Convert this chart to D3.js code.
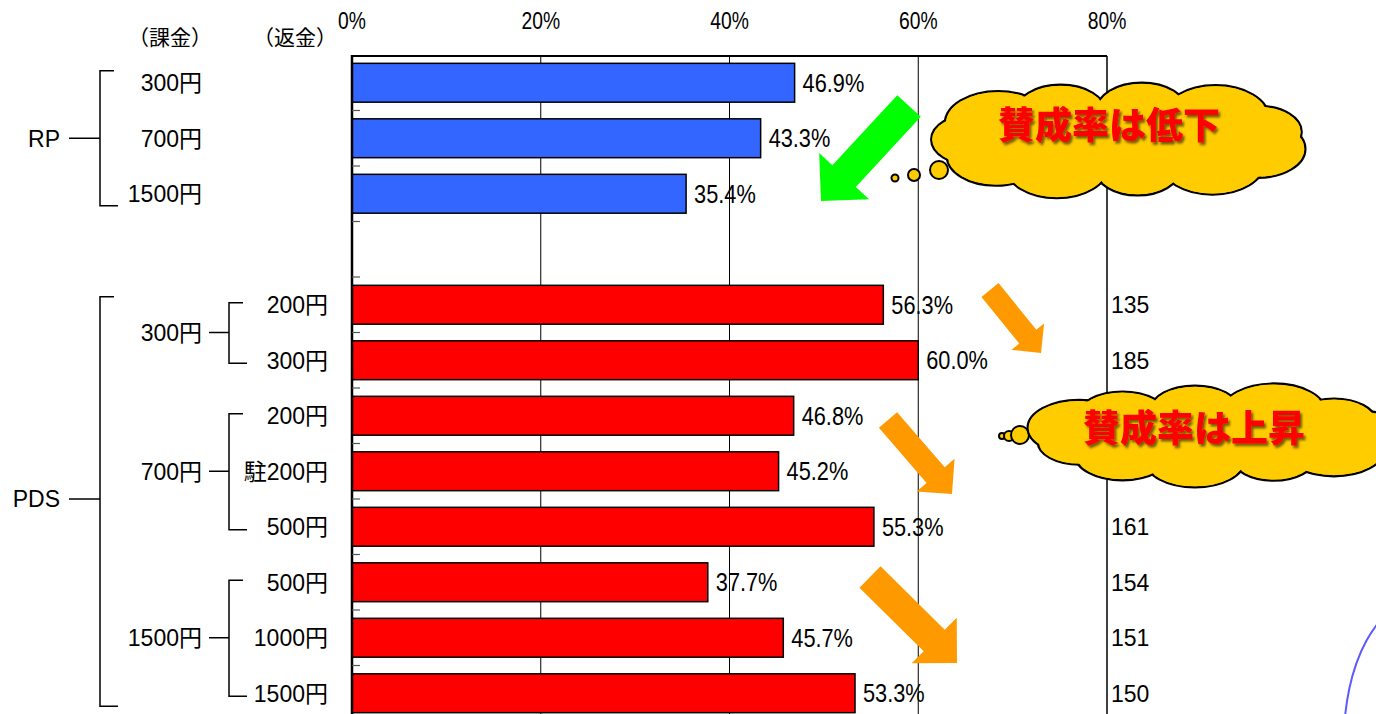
<!DOCTYPE html>
<html>
<head>
<meta charset="utf-8">
<script src="https://cdn.jsdelivr.net/npm/d3@7"></script>
<style>
  html, body { margin: 0; padding: 0; background: #fff; }
  svg { display: block; }
</style>
</head>
<body>
<svg id="chart" width="1376" height="714"></svg>
<script>
// ---- data ----
const rpLabels = ["300円", "700円", "1500円"];
const rpValues = [46.9, 43.3, 35.4];
const pdsGroups = ["300円", "700円", "1500円"];
const pdsGroupOf = [0, 0, 1, 1, 1, 2, 2, 2];
const pdsLabels = ["200円", "300円", "200円", "駐200円", "500円", "500円", "1000円", "1500円"];
const pdsValues = [56.3, 60.0, 46.8, 45.2, 55.3, 37.7, 45.7, 53.3];
const pdsCounts = [135, 185, null, null, 161, 154, 151, 150];
const xTicks = [0, 20, 40, 60, 80];
const headerLabels = ["（課金）", "（返金）"];
const noteDown = "賛成率は低下";
const noteUp = "賛成率は上昇";

// ---- rows (a blank slot separates the two schemes) ----
const rows = [];
rpLabels.forEach((l, i) => rows.push({ key: "RP" + i, scheme: "RP", value: rpValues[i] }));
rows.push({ key: "gap", scheme: null, value: null });
pdsLabels.forEach((l, i) => rows.push({ key: "PDS" + i, scheme: "PDS", value: pdsValues[i], count: pdsCounts[i] }));

const svg = d3.select("#chart");
const numFont = "'Liberation Sans', sans-serif";
const jpFont = "'Liberation Sans', 'Noto Sans CJK JP', sans-serif";

const x = d3.scaleLinear().domain([0, 80]).range([352, 1107]);
const y = d3.scaleBand().domain(rows.map(r => r.key)).range([55, 721])
  .paddingInner(0.3).paddingOuter(0.15);
const step = y.step();
const yc = k => y(k) + y.bandwidth() / 2;
const plotTop = 56, plotBottom = 714;

// ---- grid ----
const grid = svg.append("g");
grid.selectAll("line.g").data(xTicks.filter(t => t > 0 && t < 80)).join("line")
  .attr("x1", d => x(d)).attr("x2", d => x(d)).attr("y1", plotTop).attr("y2", plotBottom)
  .attr("stroke", "#000").attr("stroke-width", 1);

// ---- bars ----
svg.append("g").selectAll("rect").data(rows.filter(r => r.value != null)).join("rect")
  .attr("x", x(0)).attr("y", d => y(d.key))
  .attr("width", d => x(d.value) - x(0)).attr("height", y.bandwidth())
  .attr("fill", d => d.scheme === "RP" ? "#3366ff" : "#ff0000")
  .attr("stroke", "#000").attr("stroke-width", 1.5);

// frame lines
svg.append("line").attr("x1", x(0)).attr("x2", x(80)).attr("y1", plotTop).attr("y2", plotTop)
  .attr("stroke", "#000").attr("stroke-width", 2);
svg.append("line").attr("x1", x(80)).attr("x2", x(80)).attr("y1", plotTop).attr("y2", plotBottom)
  .attr("stroke", "#000").attr("stroke-width", 1.5);
svg.append("line").attr("x1", x(0)).attr("x2", x(0)).attr("y1", plotTop - 1).attr("y2", plotBottom)
  .attr("stroke", "#000").attr("stroke-width", 2.5);

// category ticks on the inside of the axis
svg.append("g").selectAll("line").data(d3.range(1, rows.length)).join("line")
  .attr("x1", x(0)).attr("x2", x(0) + 8)
  .attr("y1", i => y.range()[0] + i * step).attr("y2", i => y.range()[0] + i * step)
  .attr("stroke", "#555").attr("stroke-width", 1.2);

// top axis labels (condensed)
svg.append("g").selectAll("text").data(xTicks).join("text")
  .attr("transform", d => `translate(${x(d)},29) scale(0.84,1)`).attr("text-anchor", "middle")
  .style("font-family", numFont).style("font-size", "23px").attr("fill", "#000")
  .text(d => d + "%");

// value labels (condensed)
svg.append("g").selectAll("text").data(rows.filter(r => r.value != null)).join("text")
  .attr("transform", d => `translate(${x(d.value) + 8},${yc(d.key)}) scale(0.87,1)`).attr("dy", "0.36em")
  .style("font-family", numFont).style("font-size", "25px").attr("fill", "#000")
  .text(d => d.value.toFixed(1) + "%");

// counts to the right of the plot
svg.append("g").selectAll("text").data(rows.filter(r => r.count != null)).join("text")
  .attr("x", x(80) + 4).attr("y", d => yc(d.key)).attr("dy", "0.36em")
  .style("font-family", jpFont).style("font-size", "23px").attr("fill", "#000")
  .text(d => d.count);

// ---- category tree on the left ----
const tree = svg.append("g").attr("stroke", "#000").attr("stroke-width", 1.5).attr("fill", "none");
const txt = svg.append("g").style("font-family", jpFont).style("font-size", "23px").attr("fill", "#000");

function bracket(xv, y0, y1, stubTop, stubBot, yMid, leadFrom) {
  tree.append("path").attr("d",
    `M${xv + stubTop},${y0}H${xv}V${y1}H${xv + stubBot}`);
  tree.append("line").attr("x1", leadFrom).attr("x2", xv).attr("y1", yMid).attr("y2", yMid);
}

// headers
headerLabels.forEach((h, i) => {
  txt.append("text").attr("x", [170, 295][i]).attr("y", 37).attr("dy", "0.36em").attr("text-anchor", "middle")
    .style("font-family", "'Noto Sans CJK JP', sans-serif").style("font-size", "21px").text(h);
});

// RP
const rpKeys = rpLabels.map((l, i) => "RP" + i);
txt.selectAll("text.rp").data(rpLabels).join("text").attr("class", "rp")
  .attr("x", 202).attr("y", (d, i) => yc(rpKeys[i])).attr("dy", "0.36em").attr("text-anchor", "end")
  .text(d => d);
const rpMid = yc(rpKeys[1]);
bracket(100, yc(rpKeys[0]) - 12, yc(rpKeys[2]) + 12, 14, 18, rpMid, 69);
txt.append("text").attr("x", 60).attr("y", rpMid).attr("dy", "0.36em").attr("text-anchor", "end").text("RP");

// PDS
const pdsKeys = pdsLabels.map((l, i) => "PDS" + i);
txt.selectAll("text.pl").data(pdsLabels).join("text").attr("class", "pl")
  .attr("x", 328).attr("y", (d, i) => yc(pdsKeys[i])).attr("dy", "0.36em").attr("text-anchor", "end")
  .text(d => d);
pdsGroups.forEach((g, gi) => {
  const idx = pdsGroupOf.map((v, i) => v === gi ? i : -1).filter(i => i >= 0);
  const y0 = yc(pdsKeys[idx[0]]) - 2, y1 = yc(pdsKeys[idx[idx.length - 1]]) + 3;
  const mid = (yc(pdsKeys[idx[0]]) + yc(pdsKeys[idx[idx.length - 1]])) / 2;
  bracket(229, y0, y1, 14, 18, mid, 209);
  txt.append("text").attr("x", 202).attr("y", mid).attr("dy", "0.36em").attr("text-anchor", "end").text(g);
});
const pdsMid = (yc(pdsKeys[0]) + yc(pdsKeys[7])) / 2;
bracket(100, yc(pdsKeys[0]) - 8, yc(pdsKeys[7]) + 13, 14, 18, pdsMid, 69);
txt.append("text").attr("x", 60).attr("y", pdsMid).attr("dy", "0.36em").attr("text-anchor", "end").text("PDS");

// ---- annotation arrows ----
function arrow(p0, p1, shaftW, headW, headL, color) {
  const dx = p1[0] - p0[0], dy = p1[1] - p0[1], L = Math.hypot(dx, dy);
  const ux = dx / L, uy = dy / L, nx = -uy, ny = ux;
  const bx = p1[0] - ux * headL, by = p1[1] - uy * headL;
  const pt = (px, py, s) => [px + nx * s, py + ny * s];
  const pts = [pt(p0[0], p0[1], shaftW / 2), pt(bx, by, shaftW / 2), pt(bx, by, headW / 2), p1,
    pt(bx, by, -headW / 2), pt(bx, by, -shaftW / 2), pt(p0[0], p0[1], -shaftW / 2)];
  svg.append("polygon").attr("points", pts.map(p => p.join(",")).join(" ")).attr("fill", color);
}
arrow([909, 106], [821, 201], 32, 68, 34, "#00ff00");
arrow([990, 290], [1041, 353], 22, 42, 21, "#ff9900");
arrow([888, 420], [952, 494], 24, 50, 25, "#ff9900");
arrow([870, 577], [957, 663], 30, 64, 32, "#ff9900");

// ---- thought clouds ----
const defs = svg.append("defs");
defs.append("filter").attr("id", "shadow").attr("x", "-10%").attr("y", "-20%").attr("width", "130%").attr("height", "150%")
  .append("feDropShadow").attr("dx", 2).attr("dy", 2.5).attr("stdDeviation", 1.2)
  .attr("flood-color", "#000").attr("flood-opacity", 0.55);

function cloud(cx, cy, a, b, bubbles, label, n, phase, tx, ty) {
  const g = svg.append("g");
  const lobes = d3.range(n).map(i => {
    const t = phase + i * 2 * Math.PI / n;
    const r = 1 + 0.12 * Math.sin(i * 2.3);
    return { x: cx + 0.76 * a * Math.cos(t), y: cy + 0.52 * b * Math.sin(t), rx: 0.25 * a * r, ry: 0.5 * b * r };
  });
  bubbles.forEach(c => g.append("circle").attr("cx", c[0]).attr("cy", c[1]).attr("r", c[2])
    .attr("fill", "#ffcc00").attr("stroke", "#000").attr("stroke-width", 2));
  g.selectAll("ellipse.o").data(lobes).join("ellipse").attr("class", "o")
    .attr("cx", d => d.x).attr("cy", d => d.y).attr("rx", d => d.rx).attr("ry", d => d.ry)
    .attr("fill", "#ffcc00").attr("stroke", "#000").attr("stroke-width", 2.2);
  g.selectAll("ellipse.i").data(lobes).join("ellipse").attr("class", "i")
    .attr("cx", d => d.x).attr("cy", d => d.y).attr("rx", d => d.rx - 1.2).attr("ry", d => d.ry - 1.2)
    .attr("fill", "#ffcc00");
  g.append("ellipse").attr("cx", cx).attr("cy", cy).attr("rx", 0.8 * a).attr("ry", 0.6 * b).attr("fill", "#ffcc00");
  g.append("text").attr("x", tx).attr("y", ty).attr("dy", "0.36em").attr("text-anchor", "middle")
    .style("font-family", "'Noto Sans CJK JP', sans-serif").style("font-weight", 900).style("font-size", "37px")
    .attr("fill", "#ff0000").attr("filter", "url(#shadow)").text(label);
}
cloud(1119, 140, 191, 58, [[895, 178, 3.5], [914, 175, 6], [939, 170, 9]], noteDown, 11, 0.3, 1109, 126);
cloud(1215, 435, 186, 50, [[1002, 436, 3], [1009, 436, 5], [1020, 435, 9]], noteUp, 11, 0.0, 1194, 429);

// big outline at the lower right
svg.append("ellipse").attr("cx", 1420).attr("cy", 740).attr("rx", 76).attr("ry", 140)
  .attr("fill", "none").attr("stroke", "#5a5aff").attr("stroke-width", 2);
</script>
</body>
</html>
